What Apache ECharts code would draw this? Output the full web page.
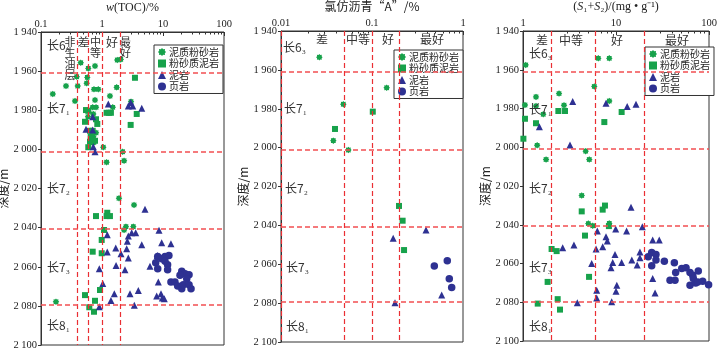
<!DOCTYPE html>
<html><head><meta charset="utf-8">
<script src="https://cdn.jsdelivr.net/npm/echarts@6/dist/echarts.min.js"></script>
<style>html,body{margin:0;padding:0;background:#fff}#c{width:720px;height:354px}</style>
</head><body><div id="c"></div>
<script>
// ---------------- DATA ----------------
const seriesNames = ['泥质粉砂岩', '粉砂质泥岩', '泥岩', '页岩'];
const depthTicks = [1940, 1960, 1980, 2000, 2020, 2040, 2060, 2080, 2100];
const unitBoundaries = [1961, 2001, 2040.5, 2079.5];
const unitLabels = ['长6₃', '长7₁', '长7₂', '长7₃', '长8₁'];

// Panel 1: w(TOC)/%  [value, depth]
const tocClassBounds = [0.4, 0.6, 1, 2];
const tocMudSilt = [[0.448,1955.7],[0.596,1958.6],[0.768,1957.4],[0.385,1962.9],[0.574,1963.2],[0.257,1967.6],[0.40,1967.6],[0.561,1966.2],[0.156,1971.7],[0.739,1969.3],[0.869,1969.3],[1.74,1968.3],[1.78,1954.3],[2.03,1954.0],[0.361,1975.3],[0.768,1974.8],[1.35,1972.7],[1.50,1978.5],[2.99,1975.6],[0.704,1978.5],[0.798,1978.5],[0.59,1983.3],[0.72,1981.9],[0.798,1991.5],[0.72,1993.5],[0.653,1995.2],[0.704,1996.6],[1.05,1998.9],[2.18,2001.2],[2.30,2005.8],[1.19,2006.6],[1.90,2025.0],[3.35,2028.4],[2.47,2039.5],[3.26,2039.5],[2.30,2041.2],[0.176,2077.9]];
const tocSiltyMud = [[3.47,1963.4],[0.547,1979.9],[0.596,1980.3],[1.19,1981.3],[1.30,1981.3],[1.40,1981.3],[3.71,1981.9],[2.95,1987.5],[0.526,1985.9],[0.837,1987.0],[0.798,1984.6],[0.636,1990.5],[0.704,1990.5],[0.653,1993.5],[0.704,1994.9],[0.636,1996.1],[0.72,1996.1],[0.768,1995.6],[0.596,1998.9],[1.22,2032.4],[1.19,2034.1],[1.35,2034.1],[0.798,2034.1],[1.08,2041.2],[0.989,2046.3],[0.704,2052.3],[0.989,2053.1],[0.927,2071.9],[0.526,2074.5],[0.768,2077.4],[0.619,2080.7],[0.739,2083.0]];
const tocMudstone = [[1.27,1976.8],[2.70,1977.8],[2.95,1976.1],[3.19,1977.8],[4.48,1979.0],[0.704,1983.3],[0.547,1989.7],[0.704,1990.1],[0.72,1998.6],[0.768,2001.2],[5.07,2030.6],[1.22,2043.6],[2.70,2044.3],[3.07,2042.6],[3.57,2042.6],[8.60,2041.4],[2.60,2047.0],[4.48,2048.7],[9.52,2047.7],[13.5,2048.2],[1.68,2050.4],[2.54,2050.8],[1.22,2052.5],[2.05,2053.3],[2.70,2055.5],[8.06,2054.2],[1.70,2059.3],[0.903,2061.0],[2.38,2061.5],[6.12,2059.8],[1.03,2068.6],[8.37,2067.8],[3.94,2072.1],[2.88,2073.8],[1.59,2073.8],[1.40,2077.2],[0.903,2080.5],[3.39,2079.7],[7.88,2075.0],[9.27,2073.8],[9.75,2076.0],[10.5,2076.3]];
const tocShale = [[8.19,2054.7],[9.52,2055.9],[10.8,2054.7],[12.5,2054.2],[7.59,2057.9],[11.9,2059.0],[8.19,2061.0],[11.9,2061.5],[10.8,2057.2],[20.3,2062.3],[23.0,2063.6],[26.7,2064.1],[19.0,2064.4],[24.5,2066.1],[13.5,2067.8],[15.7,2067.8],[17.4,2069.9],[20.3,2071.2],[21.5,2069.2],[26.7,2069.2],[28.8,2071.2]];

// Panel 2: 氯仿沥青"A"/%
const bitClassBounds = [0.015, 0.05, 0.1, 0.2];
const bitMudSilt = [[0.0264,1953.5],[0.145,1969.2],[0.0484,1977.7],[0.0376,1996.4],[0.055,2001.2]];
const bitSiltyMud = [[0.102,1981.5],[0.0392,1990.4],[0.198,2030.0],[0.217,2037.6],[0.225,2052.7]];
const bitMudstone = [[0.171,2046.6],[0.392,2042.4],[0.179,2079.8],[0.583,2075.8]];
const bitShale = [[0.484,2060.9],[0.672,2058.2],[0.707,2067.4],[0.751,2072.0]];

// Panel 3: (S1+S2)/(mg·g-1)
const s12ClassBounds = [2, 6, 20];
const s12MudSilt = [[1.07,1957.5],[6.45,1954.1],[8.47,1954.1],[5.84,1968.6],[2.44,1972.3],[1.38,1974.0],[1.05,1978.2],[1.38,1978.7],[1.65,1983.0],[2.76,1978.3],[8.47,1976.1],[1.42,1999.0],[1.77,2006.3],[4.72,2002.0],[5.16,2006.3],[4.28,2024.9],[5.04,2039.4],[5.62,2040.5],[8.47,2039.3]];
const s12SiltyMud = [[2.40,1981.3],[2.83,1981.3],[1.05,1985.3],[11.5,1981.8],[1.38,1987.6],[1.01,1995.6],[7.49,1987.0],[4.28,2033.1],[7.19,2032.2],[7.61,2030.1],[8.39,2040.7],[4.64,2045.6],[2.03,2052.5],[2.30,2053.6],[5.13,2066.9],[1.84,2069.5],[2.36,2078.4],[1.44,2080.7],[2.50,2083.8]];
const s12Mudstone = [[3.42,1976.4],[7.81,1977.3],[13.2,1979.0],[16.4,1977.8],[1.50,1989.4],[3.20,1998.9],[14.5,2031.0],[2.67,2051.9],[3.53,2050.5],[6.30,2043.2],[7.81,2046.2],[8.06,2048.4],[9.93,2042.2],[13.0,2043.2],[19.2,2041.0],[6.10,2052.5],[7.19,2051.3],[9.76,2055.3],[9.22,2059.5],[11.5,2059.5],[14.8,2058.2],[16.9,2060.8],[18.1,2057.0],[18.1,2054.0],[5.48,2060.0],[8.84,2062.2],[24.8,2047.9],[29.2,2047.9],[24.8,2067.8],[26.3,2075.2],[10.2,2071.2],[10.0,2074.3],[6.20,2073.8],[6.20,2077.8],[8.99,2079.8],[3.84,2080.2]];
const s12Shale = [[22.2,2056.5],[24.2,2054.3],[26.9,2055.3],[26.9,2058.2],[24.2,2061.2],[33.1,2058.8],[42.4,2059.6],[43.8,2064.6],[50.9,2062.6],[56.6,2062.2],[62.5,2064.6],[76.7,2063.9],[66.8,2066.0],[38.1,2068.6],[43.1,2068.6],[67.8,2067.8],[62.5,2071.2],[71.9,2070.0],[75.6,2069.5],[85.5,2069.1],[99,2071.0]];

// ---------------- STYLE / LAYOUT ----------------
const SERIF = '"Liberation Serif","Noto Sans CJK SC",serif';
const CJK = '"Noto Sans CJK SC","Liberation Serif",sans-serif';
const GREEN = '#17a24b';
const NAVY = '#2e3192';
const RED_V = '#ea2f33';
const RED_H = '#f24f52';
const STAR = 'path://M1,0 L0.7,0.29 L0.75,0.75 L0.29,0.7 L0,1 L-0.29,0.7 L-0.75,0.75 L-0.7,0.29 L-1,0 L-0.7,-0.29 L-0.75,-0.75 L-0.29,-0.7 L0,-1 L0.29,-0.7 L0.75,-0.75 L0.7,-0.29 Z';
const symbols = [
  {symbol: STAR, size: 6.5, color: GREEN},
  {symbol: 'rect', size: 6, color: GREEN},
  {symbol: 'triangle', size: 7, color: NAVY},
  {symbol: 'circle', size: 7.5, color: NAVY}
];

const panels = [
  {grid: {left: 41, top: 32, width: 183, height: 313}, min: 0.1, max: 100, nameGap: 16,
   name: '{i|w}(TOC)/%', bounds: tocClassBounds, data: [tocMudSilt, tocSiltyMud, tocMudstone, tocShale],
   legend: {left: 154, top: 45}},
  {grid: {left: 281, top: 31, width: 182, height: 311}, min: 0.01, max: 1, nameGap: 12,
   name: '氯仿沥青“A”/%', bounds: bitClassBounds, data: [bitMudSilt, bitSiltyMud, bitMudstone, bitShale],
   legend: {left: 394, top: 50}},
  {grid: {left: 523, top: 31, width: 186, height: 310}, min: 1, max: 100, nameGap: 13,
   name: '({i|S}₁+{i|S}₂)/(mg • g⁻¹)', bounds: s12ClassBounds, data: [s12MudSilt, s12SiltyMud, s12Mudstone, s12Shale],
   legend: {left: 645, top: 47}}
];

const grid = [], xAxis = [], yAxis = [], series = [], legend = [];
panels.forEach((p, i) => {
  grid.push(Object.assign({show: true, borderColor: '#333', borderWidth: 1, containLabel: false, outerBoundsMode: 'none'}, p.grid));
  xAxis.push({
    type: 'log', logBase: 10, gridIndex: i, min: p.min, max: p.max, position: 'top',
    name: p.name, nameLocation: 'middle', nameGap: p.nameGap,
    nameTextStyle: {fontSize: 12, fontFamily: i === 1 ? CJK : SERIF, color: '#222', rich: {i: {fontStyle: 'italic', fontSize: 12, fontFamily: SERIF, color: '#222'}}},
    axisLine: {show: true, lineStyle: {color: '#333', width: 1}},
    axisTick: {show: true, inside: true, length: 4, lineStyle: {color: '#333'}},
    minorTick: {show: true, splitNumber: 9, length: 2.5, lineStyle: {color: '#333'}},
    axisLabel: {fontSize: 10.5, fontFamily: SERIF, color: '#222', margin: 3},
    splitLine: {show: false}, minorSplitLine: {show: false}
  });
  yAxis.push({
    type: 'value', gridIndex: i, inverse: true, min: depthTicks[0], max: depthTicks[depthTicks.length - 1], interval: 20,
    name: '深度/m', nameLocation: 'middle', nameGap: 15,
    nameTextStyle: {fontSize: 12, fontFamily: CJK, color: '#222'},
    axisLine: {show: true, lineStyle: {color: '#333', width: 1}},
    axisTick: {show: true, inside: false, length: 3, lineStyle: {color: '#333'}},
    axisLabel: {fontSize: 10.5, fontFamily: SERIF, color: '#222', margin: 4,
      formatter: v => String(v).replace(/(\d)(\d{3})$/, '$1 $2')},
    splitLine: {show: false}
  });
  series.push({
    type: 'scatter', name: 'ref', xAxisIndex: i, yAxisIndex: i, data: [], z: 1, silent: true,
    markLine: {
      silent: true, symbol: ['none', 'none'], animation: false, label: {show: false},
      lineStyle: {color: RED_V, type: [5, 3], width: 1.2, opacity: 1},
      emphasis: {disabled: true},
      data: p.bounds.map(v => ({xAxis: v}))
        .concat(unitBoundaries.map(v => ({yAxis: v, lineStyle: {color: RED_H, type: [5, 3], width: 1.5}})))
    }
  });
  seriesNames.forEach((n, k) => {
    series.push({
      type: 'scatter', name: n, xAxisIndex: i, yAxisIndex: i, z: 3,
      symbol: symbols[k].symbol, symbolSize: symbols[k].size,
      itemStyle: {color: symbols[k].color, opacity: 1},
      data: p.data[k], animation: false
    });
  });
  legend.push(Object.assign({
    orient: 'vertical', data: seriesNames, backgroundColor: '#fff', borderColor: '#333', borderWidth: 1,
    padding: [2, 4, 2, 4], itemGap: 1.5, itemWidth: 8, itemHeight: 8, selectedMode: false,
    textStyle: {fontSize: 10, fontFamily: CJK, color: '#222', padding: [0, 0, 0, -2]}
  }, p.legend));
});

// annotation texts (pixel layout)
const txt = (x, y, text, align) => ({
  type: 'text', x: x, y: y, silent: true, z: 5,
  style: {text: text, fill: '#333', font: '12px ' + CJK, textAlign: align || 'center', textVerticalAlign: 'middle'}
});
const vtxt = (x, yTop, text) => ({
  type: 'text', x: x, y: yTop, silent: true, z: 5,
  style: {text: text.split('').join('\n'), fill: '#333', font: '11px ' + CJK, textAlign: 'center', textVerticalAlign: 'top', lineHeight: 11}
});
const graphic = [
  // panel 1
  vtxt(70, 36, '非生油层'), txt(83.5, 42, '差'), vtxt(95.5, 36, '中等'), txt(112, 42, '好'), vtxt(125.5, 36, '最好'),
  txt(47, 45, unitLabels[0], 'left'), txt(47, 108, unitLabels[1], 'left'), txt(47, 188, unitLabels[2], 'left'),
  txt(47, 267, unitLabels[3], 'left'), txt(47, 325, unitLabels[4], 'left'),
  // panel 2
  txt(322, 39, '差'), txt(358, 39, '中等'), txt(388, 39, '好'), txt(432, 39, '最好'),
  txt(283, 47, unitLabels[0], 'left'), txt(284, 108, unitLabels[1], 'left'), txt(285, 188, unitLabels[2], 'left'),
  txt(286, 267, unitLabels[3], 'left'), txt(286, 326, unitLabels[4], 'left'),
  // panel 3
  txt(542, 40, '差'), txt(571, 40, '中等'), txt(617, 40, '好'), txt(677, 40, '最好'),
  txt(529, 53, unitLabels[0], 'left'), txt(529, 109, unitLabels[1], 'left'), txt(529, 188, unitLabels[2], 'left'),
  txt(529, 267, unitLabels[3], 'left'), txt(529, 326, unitLabels[4], 'left')
];

const chart = echarts.init(document.getElementById('c'), null, {renderer: 'canvas'});
chart.setOption({
  animation: false, backgroundColor: '#fff',
  grid, xAxis, yAxis, series, legend, graphic
});
</script></body></html>
